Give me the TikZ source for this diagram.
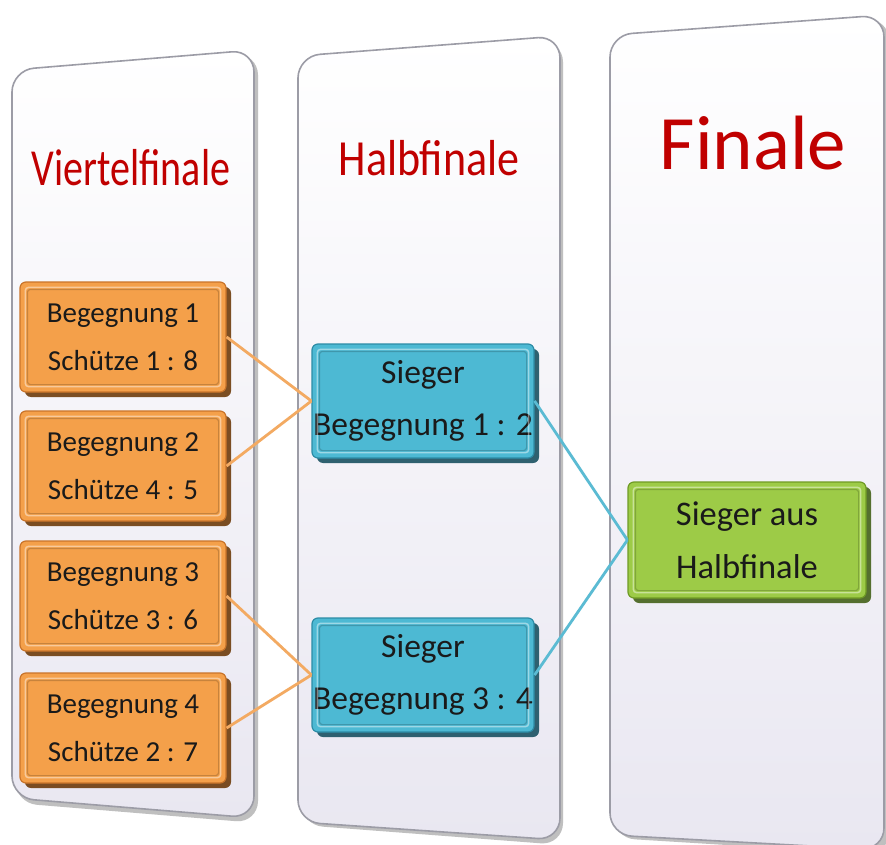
\documentclass[tikz,border=0pt]{standalone}
\usepackage{fontspec}
\setmainfont{Carlito}
\usetikzlibrary{shadows}
\definecolor{orfill}{HTML}{F4A04A}
\definecolor{oredge}{HTML}{C9742A}
\definecolor{orshade}{HTML}{6E3C0C}
\definecolor{orline}{HTML}{F3AA62}
\definecolor{blfill}{HTML}{4DB9D3}
\definecolor{bledge}{HTML}{2C8CA6}
\definecolor{blshade}{HTML}{1A5262}
\definecolor{blline}{HTML}{5BBBD3}
\definecolor{grfill}{HTML}{9DCB47}
\definecolor{gredge}{HTML}{6F9B25}
\definecolor{grshade}{HTML}{45621A}
\definecolor{panelbot}{HTML}{E9E7F1}
\definecolor{paneledge}{HTML}{9C9CA6}
\definecolor{titlered}{HTML}{C00000}
\definecolor{boxtext}{HTML}{1A1A1A}
\tikzset{
  panel/.style={rounded corners=22pt, top color=white, bottom color=panelbot, draw=paneledge, line width=1.6pt},
  panelshadow/.style={rounded corners=22pt, fill=black!25},
  boxbase/.style={rectangle, rounded corners=6pt, line width=1.2pt, align=center, inner sep=0pt, text=boxtext},
  orbox/.style={boxbase, fill=orfill, draw=oredge, minimum width=206pt, minimum height=110pt,
    font=\fontsize{29}{48}\selectfont,
    drop shadow={shadow xshift=5pt, shadow yshift=-5pt, fill=orshade, opacity=0.9}},
  blbox/.style={boxbase, fill=blfill, draw=bledge, minimum width=222pt, minimum height=114pt,
    font=\fontsize{33.5}{52}\selectfont,
    drop shadow={shadow xshift=5pt, shadow yshift=-5pt, fill=blshade, opacity=0.9}},
  grbox/.style={boxbase, fill=grfill, draw=gredge, minimum width=238pt, minimum height=116pt,
    font=\fontsize{34.5}{53}\selectfont,
    drop shadow={shadow xshift=5pt, shadow yshift=-5pt, fill=grshade, opacity=0.9}},
  bevel/.style={draw=white, opacity=0.45, line width=1.5pt, rounded corners=3pt},
  bevelin/.style={draw=black, opacity=0.18, line width=1.2pt, rounded corners=3pt},
  title/.style={text=titlered, inner sep=0pt},
  orconn/.style={draw=orline, line width=2.8pt},
  blconn/.style={draw=blline, line width=2.8pt},
}
\begin{document}
\begin{tikzpicture}[x=1pt,y=-1pt]
\useasboundingbox (0,0) rectangle (886,845);
\fill[white] (0,0) rectangle (886,845);
% panel shadows
\path[panelshadow] (15,73) -- (258,53) -- (258,823) -- (15,803) -- cycle;
\path[panelshadow] (301,60) -- (563,40) -- (563,845) -- (301,825) -- cycle;
\path[panelshadow] (613,38) -- (889,18) -- (889,855) -- (613,838) -- cycle;
% panels
\path[panel] (12,70) -- (254,50) -- (254,818) -- (12,798) -- cycle;
\path[panel] (298,56) -- (560,36) -- (560,840) -- (298,822) -- cycle;
\path[panel] (610,35) -- (884,15) -- (884,850) -- (610,835) -- cycle;
% titles
\node[title, font=\fontsize{40}{42}\selectfont] (t1) at (131,168) {\scalebox{1}[1.3]{Viertelfinale}};
\node[title, font=\fontsize{44}{46}\selectfont] (t2) at (429,158) {\scalebox{1}[1.15]{Halbfinale}};
\node[title, font=\fontsize{77}{80}\selectfont] (t3) at (753,143) {Finale};
% boxes
\node[orbox] (o1) at (123,337) {Begegnung 1\\Schütze 1 : 8};
\node[orbox] (o2) at (123,466) {Begegnung 2\\Schütze 4 : 5};
\node[orbox] (o3) at (123,596) {Begegnung 3\\Schütze 3 : 6};
\node[orbox] (o4) at (123,728) {Begegnung 4\\Schütze 2 : 7};
\node[blbox] (b1) at (423,401) {Sieger\\Begegnung 1 : 2};
\node[blbox] (b2) at (423,675) {Sieger\\Begegnung 3 : 4};
\node[grbox] (g1) at (747,540) {Sieger aus\\Halbfinale};
% bevels
\foreach \n in {o1,o2,o3,o4,b1,b2,g1}{
  \draw[bevel] ([shift={(6pt,-6pt)}]\n.north west) rectangle ([shift={(-6pt,6pt)}]\n.south east);
  \draw[bevelin] ([shift={(8pt,-8pt)}]\n.north west) rectangle ([shift={(-8pt,8pt)}]\n.south east);
}
% connectors
\draw[orconn] (o1.east) -- (b1.west);
\draw[orconn] (o2.east) -- (b1.west);
\draw[orconn] (o3.east) -- (b2.west);
\draw[orconn] (o4.east) -- (b2.west);
\draw[blconn] (b1.east) -- (g1.west);
\draw[blconn] (b2.east) -- (g1.west);
\end{tikzpicture}
\end{document}
